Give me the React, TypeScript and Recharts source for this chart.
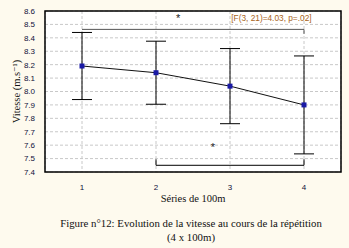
import React from 'react';
import {
  ComposedChart,
  Line,
  XAxis,
  YAxis,
  CartesianGrid,
  ErrorBar,
  ReferenceLine,
  ReferenceDot,
  ReferenceArea,
} from 'recharts';

// series 1..4 of 100m, mean speed and error half-width
const series = [1, 2, 3, 4];
const speed = [8.19, 8.14, 8.04, 7.9];
const spread = [0.25, 0.235, 0.28, 0.365];
const yTicks = [7.4, 7.5, 7.6, 7.7, 7.8, 7.9, 8.0, 8.1, 8.2, 8.3, 8.4, 8.5, 8.6];

// significance brackets
const topBracket = { x1: 1, x2: 4, y: 8.463, tip: 8.43 };
const bottomBracket = { x1: 2, x2: 4, y: 7.45, tip: 7.495 };
const statText = '[F(3, 21)=4.03, p=.02]';

const data = series.map((s, i) => ({ s, v: speed[i], err: spread[i] }));

const BG = '#fefaee';
const SERIF = '"Liberation Serif", "DejaVu Serif", serif';
const SANS = '"Liberation Sans", Arial, sans-serif';

const SquareDot = (props: any) => {
  const { cx, cy } = props;
  if (cx == null || cy == null) return null;
  return <rect x={cx - 2.5} y={cy - 2.5} width={5} height={5} fill="#1a1aa6" />;
};

const Star = (text: string) => (props: any) => {
  const { viewBox } = props;
  return (
    <text x={viewBox.x} y={viewBox.y} textAnchor="middle" dominantBaseline="central" fontSize={11} fill="#222" fontFamily={SANS}>
      {text}
    </text>
  );
};

const Stat = (props: any) => {
  const { viewBox } = props;
  return (
    <text x={viewBox.x} y={viewBox.y} textAnchor="middle" dominantBaseline="central" fontSize={8.3} fill="#a8641a" fontFamily={SANS}>
      {statText}
    </text>
  );
};

export default function App() {
  return (
    <div style={{ position: 'relative', width: 349, height: 248, background: BG, overflow: 'hidden' }}>
      <style>{`body{margin:0}`}</style>
      <ComposedChart
        width={349}
        height={248}
        data={data}
        margin={{ top: 11, right: 8, left: 0, bottom: 46 }}
      >
        <CartesianGrid strokeDasharray="3 2" stroke="#c8c8c8" fill="#ffffff" />
        <XAxis
          dataKey="s"
          type="number"
          domain={[0.5, 4.5]}
          ticks={series}
          tickLine={false}
          axisLine={false}
          tickMargin={6}
          height={30}
          tick={{ fontSize: 8, fill: '#10103a', fontFamily: SANS }}
          label={{ value: 'Séries de 100m', position: 'insideBottom', offset: 0, fontSize: 10.5, fill: '#111', fontFamily: SERIF }}
        />
        <YAxis
          type="number"
          domain={[7.4, 8.6]}
          ticks={yTicks}
          interval={0}
          tickFormatter={(v: number) => v.toFixed(1)}
          tickLine={false}
          axisLine={false}
          tickMargin={4}
          width={45}
          tick={{ fontSize: 8, fill: '#10103a', fontFamily: SANS }}
          label={{ value: 'Vitesse (m.s⁻¹)', angle: -90, position: 'center', dx: -6, fontSize: 10.5, fill: '#111', fontFamily: SERIF }}
        />
        <ReferenceArea x1={0.5} x2={4.5} y1={7.4} y2={8.6} fill="none" stroke="#000" strokeWidth={1.5} ifOverflow="visible" />
        <ReferenceLine segment={[{ x: topBracket.x1, y: topBracket.y }, { x: topBracket.x2, y: topBracket.y }]} stroke="#555" strokeWidth={1} />
        <ReferenceLine segment={[{ x: topBracket.x2, y: topBracket.y }, { x: topBracket.x2, y: topBracket.tip }]} stroke="#555" strokeWidth={1} />
        <ReferenceLine segment={[{ x: bottomBracket.x1, y: bottomBracket.y }, { x: bottomBracket.x2, y: bottomBracket.y }]} stroke="#000" strokeWidth={1} />
        <ReferenceLine segment={[{ x: bottomBracket.x1, y: bottomBracket.y }, { x: bottomBracket.x1, y: bottomBracket.tip }]} stroke="#000" strokeWidth={1} />
        <ReferenceLine segment={[{ x: bottomBracket.x2, y: bottomBracket.y }, { x: bottomBracket.x2, y: bottomBracket.tip }]} stroke="#000" strokeWidth={1} />
        <ReferenceDot x={2.3} y={8.55} r={0} stroke="none" label={Star('*')} />
        <ReferenceDot x={2.77} y={7.585} r={0} stroke="none" label={Star('*')} />
        <ReferenceDot x={3.56} y={8.545} r={0} stroke="none" label={Stat} />
        <Line
          dataKey="v"
          stroke="#111"
          strokeWidth={1}
          dot={<SquareDot />}
          activeDot={false}
          isAnimationActive={false}
        >
          <ErrorBar dataKey="err" width={10} stroke="#000" strokeWidth={1} direction="y" />
        </Line>
      </ComposedChart>
      <div
        style={{
          position: 'absolute',
          left: 33,
          top: 216,
          width: 316,
          textAlign: 'center',
          fontFamily: SERIF,
          fontSize: 10.8,
          lineHeight: '14px',
          color: '#111',
          whiteSpace: 'nowrap',
        }}
      >
        Figure n°12: Evolution de la vitesse au cours de la répétition
        <br />
        (4 x 100m)
      </div>
    </div>
  );
}
